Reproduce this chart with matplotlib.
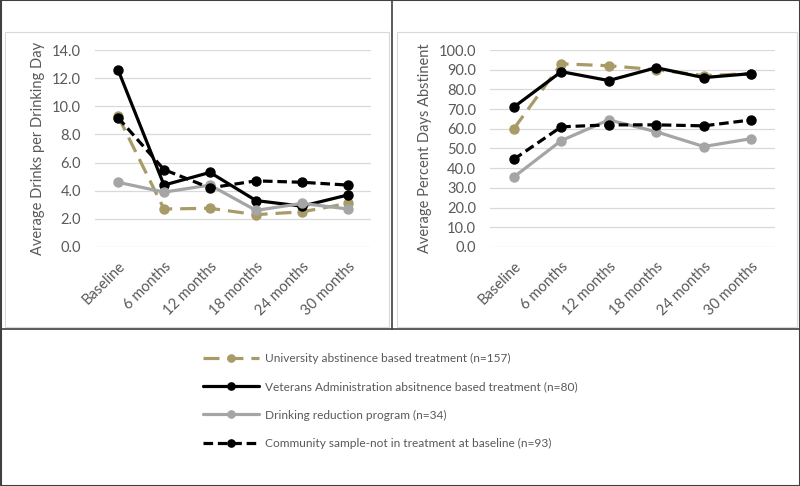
import matplotlib.pyplot as plt
from matplotlib.lines import Line2D
from matplotlib.patches import Rectangle

# ── data
periods = ['Baseline', '6 months', '12 months', '18 months', '24 months', '30 months']
series_names = [
    'University abstinence based treatment (n=157)',
    'Veterans Administration absitnence based treatment (n=80)',
    'Drinking reduction program (n=34)',
    'Community sample-not in treatment at baseline (n=93)',
]
drinks_university = [9.3, 2.7, 2.75, 2.3, 2.5, 3.1]
drinks_va = [12.6, 4.4, 5.3, 3.3, 2.9, 3.7]
drinks_reduction = [4.6, 3.9, 4.4, 2.6, 3.1, 2.7]
drinks_community = [9.2, 5.5, 4.2, 4.7, 4.6, 4.4]

pda_university = [60.0, 93.0, 92.0, 90.0, 87.0, 88.0]
pda_va = [71.0, 89.0, 84.5, 91.0, 86.0, 88.0]
pda_reduction = [35.5, 54.0, 64.5, 58.5, 51.0, 55.0]
pda_community = [44.5, 61.0, 62.0, 62.0, 61.5, 64.5]

# ── styles
GOLD = '#A89B67'
GRAY = '#A5A5A5'
TEXT = '#595959'
styles = [
    dict(color=GOLD, dashes=(5, 2.5)),
    dict(color='black', linestyle='-'),
    dict(color=GRAY, linestyle='-'),
    dict(color='black', dashes=(3, 1.5)),
]

plt.rcParams['font.family'] = ['Lato', 'DejaVu Sans']

W, H = 800, 486
fig = plt.figure(figsize=(W / 100, H / 100), dpi=100)


def px_axes(x0, x1, y_top, y_bot):
    return fig.add_axes([x0 / W, 1 - y_bot / H, (x1 - x0) / W, (y_bot - y_top) / H])


def style_axes(ax, ymax, step, ylabel):
    ax.set_xlim(-0.5, len(periods) - 0.5)
    ax.set_ylim(0, ymax)
    ax.set_yticks([step * i for i in range(int(round(ymax / step)) + 1)])
    ax.yaxis.set_major_formatter(plt.FormatStrFormatter('%.1f'))
    ax.set_xticks(range(len(periods)))
    ax.set_xticklabels(periods, rotation=45, ha='right', rotation_mode='anchor')
    ax.tick_params(length=0, labelsize=10.5, colors=TEXT)
    ax.tick_params(axis='y', pad=10)
    ax.tick_params(axis='x', pad=9)
    ax.grid(axis='y', color='#D9D9D9', linewidth=0.9)
    ax.set_axisbelow(True)
    for s in ax.spines.values():
        s.set_visible(False)
    ax.set_ylabel(ylabel, fontsize=10.5, color=TEXT, labelpad=5)
    ax.patch.set_alpha(0)


def plot_series(ax, all_series):
    handles = []
    for vals, st in zip(all_series, styles):
        h, = ax.plot(range(len(periods)), vals, linewidth=2.3, marker='o',
                     markersize=6.5, solid_capstyle='round', **st)
        handles.append(h)
    return handles


ax1 = px_axes(95, 371, 50, 247)
style_axes(ax1, 14.0, 2.0, 'Average Drinks per Drinking Day')
handles = plot_series(ax1, [drinks_university, drinks_va, drinks_reduction, drinks_community])

ax2 = px_axes(490, 775, 50, 247)
style_axes(ax2, 100.0, 10.0, 'Average Percent Days Abstinent')
plot_series(ax2, [pda_university, pda_va, pda_reduction, pda_community])

# legend in the bottom panel
leg = fig.legend(handles, series_names, loc='upper left',
                 bbox_to_anchor=(198 / W, 1 - 348 / H), frameon=False,
                 fontsize=8.6, handlelength=4.7, labelspacing=1.45,
                 handletextpad=0.5, borderaxespad=0, markerscale=0.8)
for t in leg.get_texts():
    t.set_color(TEXT)

# panel borders
for (x0, y0, x1, y1) in [(5, 32, 389, 327), (397, 32, 797, 327)]:
    fig.add_artist(Rectangle((x0 / W, 1 - y1 / H), (x1 - x0) / W, (y1 - y0) / H,
                             transform=fig.transFigure, fill=False,
                             edgecolor='#D9D9D9', linewidth=0.8))
fig.add_artist(Rectangle((0.5 / W, 0.5 / H), (W - 1) / W, (H - 1) / H,
                         transform=fig.transFigure, fill=False,
                         edgecolor='#404040', linewidth=1.5))
fig.add_artist(Line2D([392 / W, 392 / W], [1, 1 - 329 / H],
                      transform=fig.transFigure, color='#404040', linewidth=1.2))
fig.add_artist(Line2D([0, 1], [1 - 329 / H, 1 - 329 / H],
                      transform=fig.transFigure, color='#404040', linewidth=1.2))

fig.savefig('out.png', dpi=100)
